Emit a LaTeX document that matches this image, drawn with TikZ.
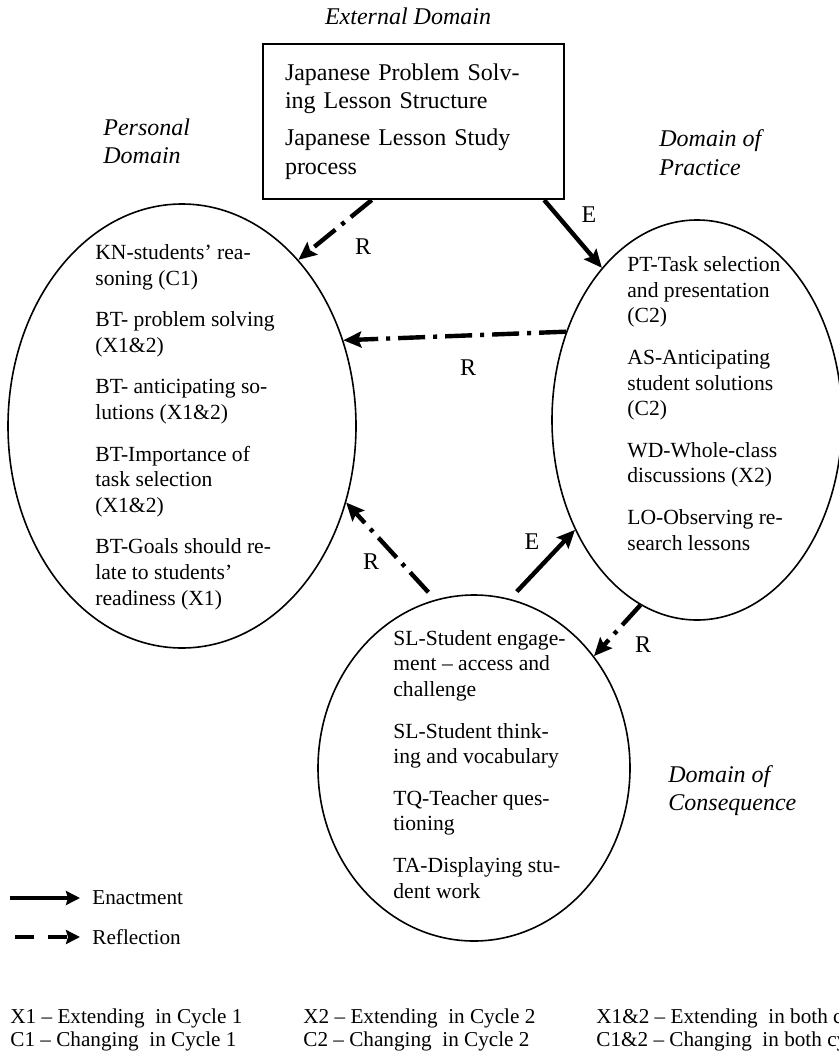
\documentclass[tikz,border=0pt]{standalone}
\usepackage{fontspec}
\setmainfont{Liberation Serif}
\usetikzlibrary{arrows.meta,positioning,shapes.geometric}

\begin{document}
\begin{tikzpicture}[
    x=0.5pt, y=-0.5pt,
    domainshape/.style={ellipse, draw, line width=0.8pt, inner sep=0pt},
    box/.style={draw, line width=1pt, minimum width=150.5pt, minimum height=77.5pt, text width=128.5pt, inner xsep=11pt, inner ysep=0pt, align=left, font=\fontsize{12}{14.25}\selectfont},
    itemtext/.style={anchor=base west, inner sep=0pt, align=left, font=\fontsize{10.8}{12.8}\selectfont},
    dlabel/.style={anchor=base west, inner sep=0pt, align=left, font=\fontsize{12}{14}\selectfont\itshape},
    letter/.style={inner sep=0pt, font=\fontsize{12}{14}\selectfont},
    enact/.style={-{Stealth[length=9pt, width=8pt, inset=1.5pt]}, line width=2.2pt},
    reflect/.style={enact, dash pattern=on 13.5pt off 4pt on 2pt off 4pt},
    keytext/.style={anchor=base west, inner sep=0pt, align=left, font=\fontsize{10.6}{11.5}\selectfont},
    keyarrow/.style={-{Stealth[length=7pt, width=7pt, inset=1pt]}, line width=2.2pt}
]
\useasboundingbox (0,0) rectangle (839,1054);
\clip (0,0) rectangle (839,1054);

% domains (multi-line texts sit on their last baseline)
\node[dlabel, anchor=base] (external) at (408,25) {External Domain};
\node[box] (ext) at (413.5,121.5) {Japanese Problem Solv-\\ing Lesson Structure\\[4.25pt]Japanese Lesson Study\\process};
\node[dlabel] (personal) at (103,163) {Personal\\Domain};
\node[dlabel] (practice) at (659,175) {Domain of\\Practice};
\node[dlabel] (consequence) at (668,810) {Domain of\\Consequence};

\node[domainshape, minimum width=174pt, minimum height=222pt] (pd) at (182,426) {};
\node[domainshape, minimum width=145pt, minimum height=200pt] (pp) at (697,420) {};
\node[domainshape, minimum width=156pt, minimum height=173pt] (pc) at (474,768) {};

\node[itemtext] (pdtext) at (95,605) {KN-students' rea-\\soning (C1)\\[8pt]BT- problem solving\\(X1\&2)\\[8pt]BT- anticipating so-\\lutions (X1\&2)\\[8pt]BT-Importance of\\task selection\\(X1\&2)\\[8pt]BT-Goals should re-\\late to students'\\readiness (X1)};
\node[itemtext] (pptext) at (627,550) {PT-Task selection\\and presentation\\(C2)\\[8pt]AS-Anticipating\\student solutions\\(C2)\\[8pt]WD-Whole-class\\discussions (X2)\\[8pt]LO-Observing re-\\search lessons};
\node[itemtext] (pctext) at (393,898) {SL-Student engage-\\ment -- access and\\challenge\\[8pt]SL-Student think-\\ing and vocabulary\\[8pt]TQ-Teacher ques-\\tioning\\[8pt]TA-Displaying stu-\\dent work};

% connectors
\draw[reflect] (ext.242) -- (pd.55);
\draw[enact] (ext.-31) -- (pp.122);
\draw[reflect] (pp.146) -- (pd.28);
\draw[reflect, shorten <=5pt] (pc.103) -- (pd.-25);
\draw[enact, shorten <=5pt] (pc.78) -- (pp.222);
\draw[reflect] (pp.253) -- (pc.43);

\node[letter] (r1) at (363,247) {R};
\node[letter] (e1) at (589,215) {E};
\node[letter] (r2) at (468,368) {R};
\node[letter] (r3) at (371,562) {R};
\node[letter] (e2) at (532,542) {E};
\node[letter] (r4) at (643,645) {R};

% key
\coordinate (enstart) at (10,898);
\coordinate (restart) at (15,937);
\node[keytext, anchor=west, inner xsep=6pt] (enkey) at (80,898) {Enactment};
\node[keytext, anchor=west, inner xsep=6pt] (rekey) at (80,937) {Reflection};
\draw[keyarrow] (enstart) -- (enkey.west);
\draw[keyarrow, dash pattern=on 9.5pt off 7pt] (restart) -- (rekey.west);

\node[keytext] (cycle1) at (10,1046) {X1 -- Extending~ in Cycle 1\\C1 -- Changing~ in Cycle 1};
\node[keytext] (cycle2) at (303,1046) {X2 -- Extending~ in Cycle 2\\C2 -- Changing~ in Cycle 2};
\node[keytext] (cycle12) at (596,1046) {X1\&2 -- Extending~ in both cycles\\C1\&2 -- Changing~ in both cycles};
\end{tikzpicture}
\end{document}
